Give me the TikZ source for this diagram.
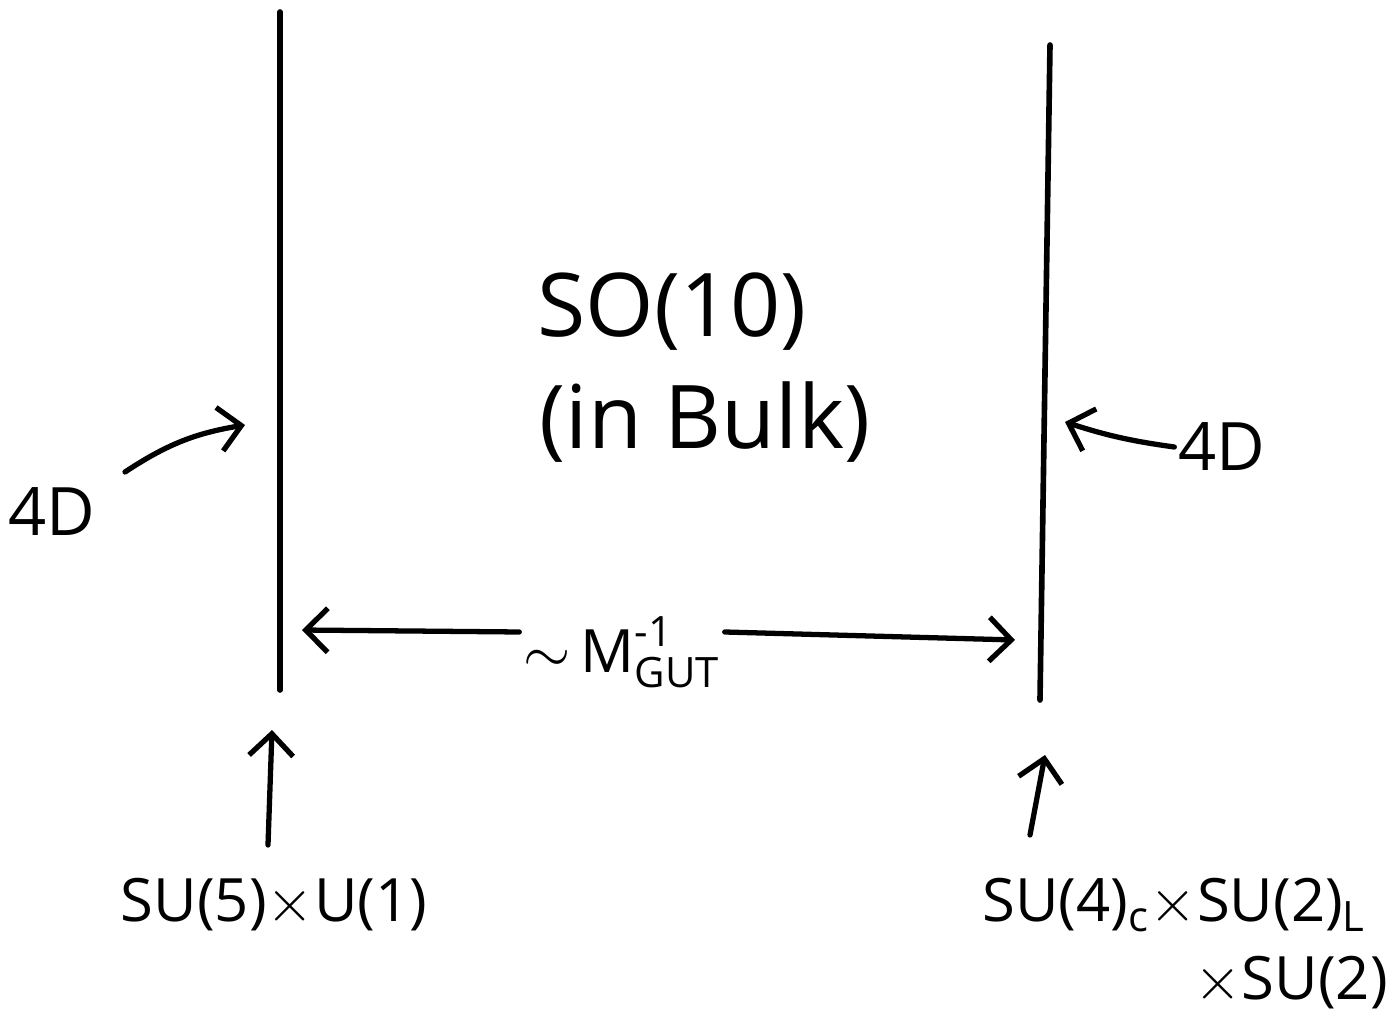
\documentclass[tikz,border=0pt]{standalone}
\usepackage{amsmath}
\usepackage{fontspec}
\setmainfont{Open Sans}
\usetikzlibrary{positioning,arrows.meta}

\tikzset{
  brane/.style={line width=1.6pt, line cap=round},
  arr/.style={line width=1.5pt, line cap=round, -{Straight Barb[length=2.2mm,width=4.4mm,line width=1.5pt]}},
  lbl/.style={inner sep=1pt, font=\fontsize{17}{21}\selectfont},
  big/.style={inner sep=1pt, font=\fontsize{25}{30}\selectfont},
}

\begin{document}
\begin{tikzpicture}[x=0.01cm,y=-0.01cm]
  \useasboundingbox (0,0) rectangle (1399,1030);

  % the two branes
  \coordinate (lbtop) at (280,12);
  \coordinate (lbbot) at (280,690);
  \coordinate (rbtop) at (1050,45);
  \coordinate (rbbot) at (1040,700);
  \draw[brane] (lbtop) -- (lbbot);
  \draw[brane] (rbtop) -- (rbbot);

  % bulk
  \node[big] (so) at (672,312) {SO(10)};
  \node[big] (bulk) at (705,422) {(in Bulk)};

  % left 4D
  \node[lbl, font=\fontsize{19}{23}\selectfont] (ld) at (52,512) {4D};
  \coordinate (ltail) at (125,472);
  \coordinate (lhead) at (245,425);
  \draw[arr] (ltail) to[bend left=12] (lhead);

  % right 4D
  \node[lbl, font=\fontsize{19}{23}\selectfont] (rd) at (1222,447) {4D};
  \coordinate (rhead) at (1065,422);
  \draw[arr] (rd.west) to[bend left=5] (rhead);

  % distance between branes
  \node[lbl] (mgut) at (622,652) {$\sim$\,$\text{M}^{\text{-1}}_{\text{GUT}}$};
  \coordinate (gapL) at (302,630);
  \coordinate (gapR) at (1015,640);
  \draw[arr] ([yshift=0.2cm]mgut.west) -- (gapL);
  \draw[arr] ([yshift=0.2cm]mgut.east) -- (gapR);

  % groups on the branes
  \node[lbl] (su5) at (274,905) {SU(5)$\times$U(1)};
  \coordinate (su5tail) at (268,845);
  \coordinate (su5head) at (272,730);
  \draw[arr] (su5tail) -- (su5head);

  \node[lbl, anchor=west] (ps) at (978,905) {SU(4)$_{\text{c}}$$\times$SU(2)$_{\text{L}}$};
  \node[lbl, anchor=north east] (ps2) at (1392,952) {$\times$SU(2)};
  \coordinate (pstail) at (1030,835);
  \coordinate (pshead) at (1045,755);
  \draw[arr] (pstail) -- (pshead);
\end{tikzpicture}
\end{document}
